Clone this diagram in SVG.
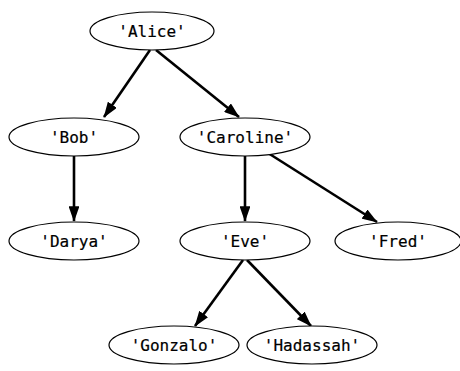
<svg xmlns="http://www.w3.org/2000/svg" width="460" height="371" viewBox="0 0 460 371">
  <style>
    .node ellipse { fill: #fff; stroke: #000; stroke-width: 1.2; }
    .node text { font-family: "DejaVu Sans Mono", "Liberation Mono", monospace; font-size: 16px; text-anchor: middle; dominant-baseline: central; fill: #000; stroke: #000; stroke-width: 0.2; }
    .edge { stroke: #000; stroke-width: 2.6; fill: none; marker-end: url(#arrow); }
  </style>
  <defs>
    <marker id="arrow" viewBox="0 0 10 7" refX="9.5" refY="3.5" markerWidth="6" markerHeight="4.2" orient="auto" markerUnits="strokeWidth">
      <path d="M0,0 L10,3.5 L0,7 Z" fill="#000"/>
    </marker>
  </defs>
  <rect width="460" height="371" fill="#fff"/>
  <g id="edges">
    <line class="edge" x1="150" y1="50" x2="104" y2="117"/>
    <line class="edge" x1="156" y1="50" x2="239" y2="117"/>
    <line class="edge" x1="74" y1="156" x2="74" y2="221"/>
    <line class="edge" x1="245" y1="156" x2="245" y2="221"/>
    <line class="edge" x1="268" y1="153" x2="377" y2="222"/>
    <line class="edge" x1="243" y1="260" x2="195" y2="326"/>
    <line class="edge" x1="247" y1="260" x2="311" y2="326"/>
  </g>
  <g id="alice" class="node"><ellipse cx="152" cy="31" rx="62" ry="19"/><text x="152" y="31">'Alice'</text></g>
  <g id="bob" class="node"><ellipse cx="74" cy="137" rx="65" ry="19"/><text x="74" y="137">'Bob'</text></g>
  <g id="caroline" class="node"><ellipse cx="245" cy="137" rx="65" ry="19"/><text x="245" y="137">'Caroline'</text></g>
  <g id="darya" class="node"><ellipse cx="74" cy="241" rx="65" ry="19"/><text x="74" y="241">'Darya'</text></g>
  <g id="eve" class="node"><ellipse cx="245" cy="241" rx="65" ry="19"/><text x="245" y="241">'Eve'</text></g>
  <g id="fred" class="node"><ellipse cx="398" cy="241" rx="63" ry="19"/><text x="398" y="241">'Fred'</text></g>
  <g id="gonzalo" class="node"><ellipse cx="174" cy="345" rx="65" ry="19"/><text x="174" y="345">'Gonzalo'</text></g>
  <g id="hadassah" class="node"><ellipse cx="312" cy="345" rx="65" ry="19"/><text x="312" y="345">'Hadassah'</text></g>
</svg>
